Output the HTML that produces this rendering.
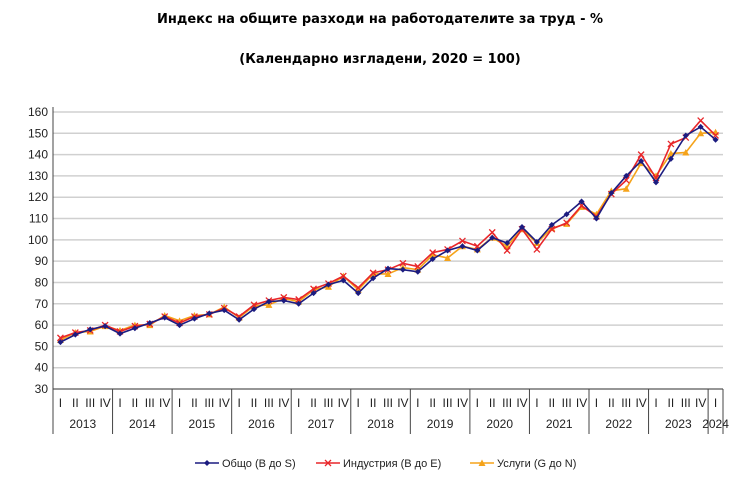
<!DOCTYPE html>
<html><head><meta charset="utf-8"><style>
body{margin:0;background:#fff;font-family:"Liberation Sans","DejaVu Sans",sans-serif;}
svg text{font-family:"Liberation Sans","DejaVu Sans",sans-serif;}
svg text.ttl{font-family:"DejaVu Sans",sans-serif;}
</style></head><body>
<svg id="c" width="740" height="488" xmlns="http://www.w3.org/2000/svg">
<text class="ttl" x="380" y="23" text-anchor="middle" font-size="13" font-weight="bold">Индекс на общите разходи на работодателите за труд - %</text>
<text class="ttl" x="380" y="63" text-anchor="middle" font-size="13" font-weight="bold">(Календарно изгладени, 2020 = 100)</text>
</svg>
<script>
const years=["2013","2014","2015","2016","2017","2018","2019","2020","2021","2022","2023","2024"];
const quarters=["I","II","III","IV"];
const yTicks=[30,40,50,60,70,80,90,100,110,120,130,140,150,160];
const total=[52,55.5,58,59.5,56,58.5,61,63.5,60,63,65.5,67,62.5,67.5,71,71.5,70,75,79,81,75,82,86.5,86,85,91,95,97,95,101,98.5,106,99,107,112,118,110,122,130,137,127,138,149,153,147];
const industry=[54,56.5,57.5,60,57,59.5,60.5,64,61,64,65,68,64,69.5,71.5,73,72,77,79.5,83,77.5,84.5,86,89,87.5,94,95.5,99.5,97,103.5,95,105,95.5,105,108,116,111,121.5,128,140,129,145,148,156,149];
const services=[53,56.5,57,59.5,57.5,60,60,64.5,62,64.5,65,68.5,63.5,69,69.5,72.5,71,76.5,78,83,76.5,84,84,87,86,93,91.5,97,95.5,101,97,105,98.5,105.5,107.5,115.5,112,123,124,136,130,140.5,141,150,150.5];

const svg=document.getElementById('c');const NS="http://www.w3.org/2000/svg";
const X0=53,X1=723,Y0=389,Y1=112,N=total.length,qw=(X1-X0)/N;
const xs=i=>X0+qw*(i+0.5);
const ys=v=>Y0-(v-30)/(160-30)*(Y0-Y1);
function el(t,a,p){const e=document.createElementNS(NS,t);for(const k in a)e.setAttribute(k,a[k]);(p||svg).appendChild(e);return e;}
yTicks.forEach(v=>{
 const g=el('line',{x1:X0,x2:X1,y1:ys(v),y2:ys(v),stroke:'#d0d0d0','stroke-width':1.5});
 
 
 const t=el('text',{x:X0-5,y:ys(v)+4,'text-anchor':'end','font-size':12,fill:'#222'});t.textContent=v;
 
 
});
el('line',{x1:X0,x2:X0,y1:Y1-5,y2:Y0,stroke:'#444'});
el('line',{x1:X0,x2:X1,y1:Y0,y2:Y0,stroke:'#444'});
for(let i=0;i<N;i++){
 const t=el('text',{x:xs(i),y:Y0+18,'text-anchor':'middle','font-size':12,fill:'#222'});t.textContent=quarters[i%4];
 
 
}
years.forEach((y,k)=>{
 const a=X0+k*4*qw,b=Math.min(X0+(k+1)*4*qw,X1);
 el('line',{x1:a,x2:a,y1:Y0,y2:Y0+45,stroke:'#444'});
 if(k==years.length-1)el('line',{x1:X1,x2:X1,y1:Y0,y2:Y0+45,stroke:'#444'});
 const t=el('text',{x:(a+b)/2,y:Y0+39,'text-anchor':'middle','font-size':12,fill:'#222'});t.textContent=y;
 
 
});
function series(d,col,name,mk){
 const p=el('polyline',{points:d.map((v,i)=>xs(i)+','+ys(v)).join(' '),fill:'none',stroke:col,'stroke-width':1.6});
 
 
 d.forEach((v,i)=>{const m=mk(xs(i),ys(v));
  
  });
}
const dia=(x,y,c)=>el('path',{d:`M${x},${y-3}L${x+3},${y}L${x},${y+3}L${x-3},${y}Z`,fill:c});
const cross=(x,y,c)=>el('path',{d:`M${x-3},${y-3}L${x+3},${y+3}M${x-3},${y+3}L${x+3},${y-3}`,stroke:c,'stroke-width':1.3});
const tri=(x,y,c)=>el('path',{d:`M${x},${y-3.5}L${x+3.5},${y+3}L${x-3.5},${y+3}Z`,fill:c});
series(services,'#f5a31a','services',(x,y)=>tri(x,y,'#f5a31a'));
series(industry,'#e8262a','industry',(x,y)=>cross(x,y,'#e8262a'));
series(total,'#1c1c80','total',(x,y)=>dia(x,y,'#1c1c80'));
const leg=[['Общо (B до S)','#1c1c80',dia,195],['Индустрия (B до E)','#e8262a',cross,316],['Услуги (G до N)','#f5a31a',tri,470]];
leg.forEach(([t,c,f,x])=>{
 const g=el('g',{});
 
 
 el('line',{x1:x,x2:x+24,y1:463,y2:463,stroke:c,'stroke-width':1.6},g);
 f(x+12,463,c);
 const tx=el('text',{x:x+27,y:467,'font-size':11,fill:'#222'},g);tx.textContent=t;
});
</script>
</body></html>
